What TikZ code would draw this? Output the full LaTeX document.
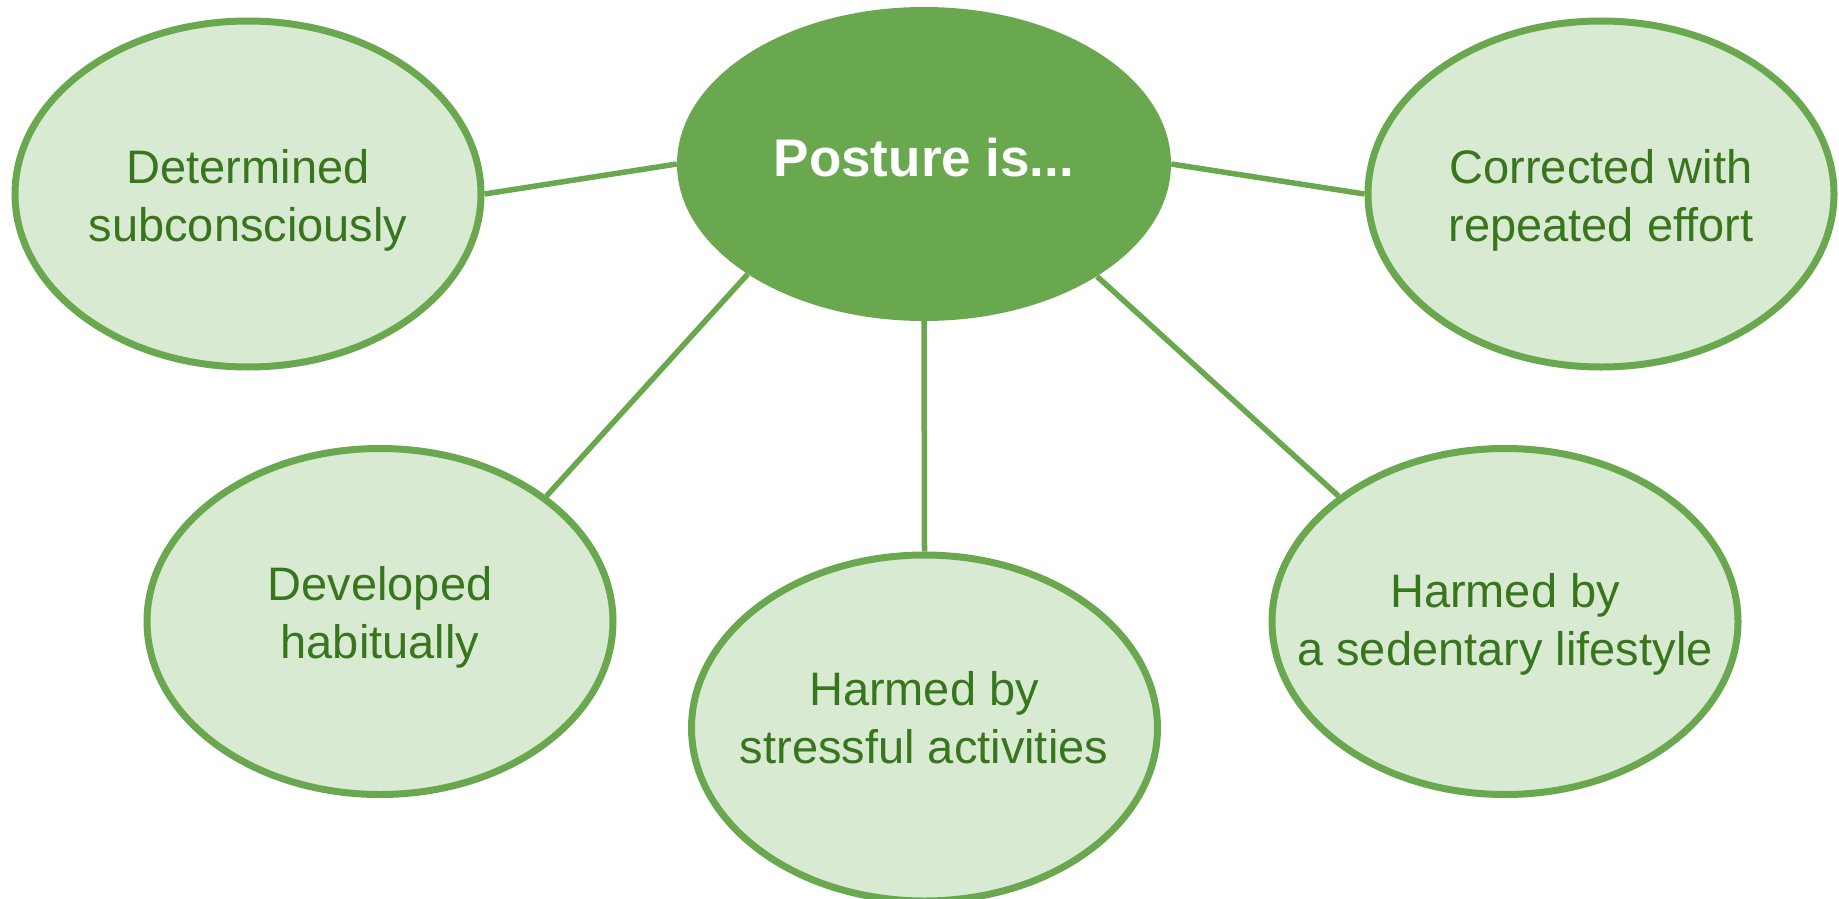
\documentclass[tikz,border=0pt]{standalone}
\usepackage{fontspec}
\setmainfont{Liberation Sans}
\usetikzlibrary{shapes.geometric,backgrounds}
\definecolor{gfill}{HTML}{D9EAD3}
\definecolor{gline}{HTML}{6AA84F}
\definecolor{gtext}{HTML}{38761D}
\begin{document}
\begin{tikzpicture}[x=1pt,y=-1pt,
  bubble/.style={ellipse,draw=gline,fill=gfill,line width=7pt,minimum width=466pt,minimum height=346pt,inner sep=0pt},
  hub/.style={ellipse,fill=gline,minimum width=494pt,minimum height=314pt,inner sep=0pt},
  lbl/.style={text=gtext,font=\fontsize{47}{58}\selectfont,align=center,inner sep=0pt},
  hublbl/.style={text=white,font=\fontsize{53}{64}\selectfont\bfseries,inner sep=0pt,anchor=base},
  link/.style={draw=gline,line width=5.5pt}]
\useasboundingbox (0,0) rectangle (1839,899);
\node[hub] (C) at (924,164) {};
\node[hublbl] (tC) at (924,176) {Posture is...};
\node[bubble] (TL) at (248,194) {};
\node[lbl] (tTL) at (248,200.9) {\strut Determined\\\strut subconsciously};
\node[bubble] (TR) at (1601,194) {};
\node[lbl] (tTR) at (1601,200.9) {\strut Corrected with\\\strut repeated effort};
\node[bubble] (ML) at (380,621.5) {};
\node[lbl] (tML) at (380,617.4) {\strut Developed\\\strut habitually};
\node[bubble] (B) at (924.5,728) {};
\node[lbl] (tB) at (924,722.5) {\strut Harmed by\\\strut stressful activities};
\node[bubble] (R) at (1505,621.5) {};
\node[lbl] (tR) at (1505,625) {\strut Harmed by\\\strut a sedentary lifestyle};
\begin{pgfonlayer}{background}
\draw[link] (C.west) -- (TL.east);
\draw[link] (C.east) -- (TR.west);
\draw[link] (C.212.5) -- (ML.37.1);
\draw[link] (C.south) -- (B.north);
\draw[link] (C.327.8) -- (R.143.5);
\end{pgfonlayer}
\end{tikzpicture}
\end{document}
